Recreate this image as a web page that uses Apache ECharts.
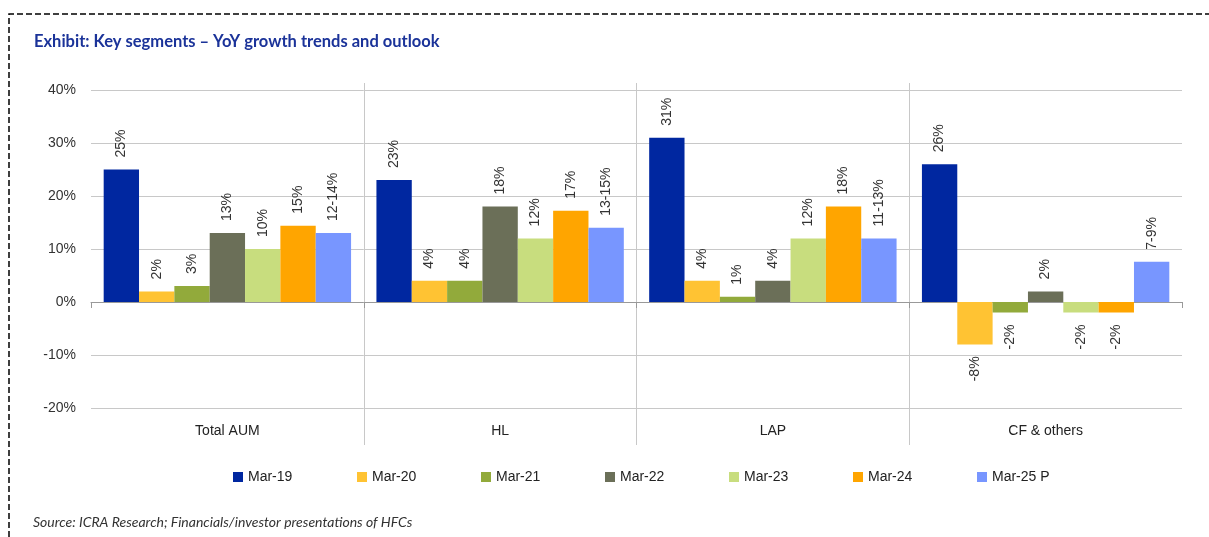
<!DOCTYPE html>
<html>
<head>
<meta charset="utf-8">
<script src="https://cdn.jsdelivr.net/npm/echarts@6/dist/echarts.min.js"></script>
<style>
  html, body { margin: 0; padding: 0; background: #fff; }
  #main { width: 1209px; height: 537px; }
</style>
</head>
<body>
<div id="main"></div>
<script>
// segments on the x axis
var segments = ['Total AUM', 'HL', 'LAP', 'CF & others'];
var yearNames = ['Mar-19', 'Mar-20', 'Mar-21', 'Mar-22', 'Mar-23', 'Mar-24', 'Mar-25 P'];

// YoY growth (%) per year
var mar19 = [25, 23, 31, 26];
var mar20 = [2, 4, 4, -8];
var mar21 = [3, 4, 1, -2];
var mar22 = [13, 18, 4, 2];
var mar23 = [10, 12, 12, -2];
var mar24 = [14.4, 17.2, 18, -2];
var mar25p = [13, 14, 12, 7.6];

// labels printed on the bars
var lbl19 = ['25%', '23%', '31%', '26%'];
var lbl20 = ['2%', '4%', '4%', '-8%'];
var lbl21 = ['3%', '4%', '1%', '-2%'];
var lbl22 = ['13%', '18%', '4%', '2%'];
var lbl23 = ['10%', '12%', '12%', '-2%'];
var lbl24 = ['15%', '17%', '18%', '-2%'];
var lbl25p = ['12-14%', '13-15%', '11-13%', '7-9%'];

var colors = ['#0027A0', '#FFC333', '#92AA3B', '#6B6F58', '#C8DD7E', '#FFA500', '#7896FF'];

var allValues = [mar19, mar20, mar21, mar22, mar23, mar24, mar25p];
var allLabels = [lbl19, lbl20, lbl21, lbl22, lbl23, lbl24, lbl25p];

var FONT = 'Liberation Sans';

function makeSeries(i) {
  var vals = allValues[i], lbls = allLabels[i];
  return {
    name: yearNames[i],
    type: 'bar',
    xAxisIndex: 0,
    yAxisIndex: 0,
    barGap: '0%',
    barCategoryGap: '9.3%',
    itemStyle: { color: colors[i] },
    data: vals.map(function (v) {
      var item = { value: v };
      // negative bars carry their label underneath
      if (v < 0) {
        item.label = { position: 'bottom', align: 'right' };
      }
      return item;
    }),
    label: {
      show: true,
      position: 'top',
      rotate: 90,
      align: 'left',
      verticalAlign: 'middle',
      distance: 12,
      color: '#333',
      fontFamily: FONT,
      fontSize: 14,
      formatter: function (p) { return lbls[p.dataIndex]; }
    }
  };
}

var series = [];
for (var i = 0; i < yearNames.length; i++) series.push(makeSeries(i));

// one legend per item so they sit on an even 124px pitch
var legends = yearNames.map(function (name, k) {
  return {
    data: [name],
    left: 228 + k * 124, top: 465,
    icon: 'rect',
    itemWidth: 10, itemHeight: 10,
    textStyle: { fontFamily: FONT, fontSize: 14, color: '#222' }
  };
});

var chart = echarts.init(document.getElementById('main'));
chart.setOption({
  animation: false,
  backgroundColor: '#fff',
  title: [
    {
      text: 'Exhibit: Key segments \u2013 YoY growth trends and outlook',
      left: 29, top: 28,
      textStyle: { fontFamily: 'Lato', fontWeight: 'bold', fontSize: 16.5, color: '#1B3399' }
    },
    {
      text: 'Source: ICRA Research; Financials/investor presentations of HFCs',
      left: 28, top: 510,
      textStyle: { fontFamily: 'Lato', fontStyle: 'italic', fontWeight: 'normal', fontSize: 14, color: '#333' }
    }
  ],
  graphic: [{
    type: 'polyline',
    shape: { points: [[9, 537], [9, 14], [1209, 14]] },
    style: { stroke: '#000', fill: null, lineWidth: 1.5, lineDash: [6, 3] }
  }],
  legend: legends,
  grid: [
    { left: 91, right: 27, top: 90, bottom: 129 },
    { left: 91, right: 27, top: 83, bottom: 92 }
  ],
  xAxis: [
    {
      type: 'category', gridIndex: 0, data: segments, position: 'bottom',
      axisLine: { onZero: true, lineStyle: { color: '#999', width: 1 } },
      axisTick: { show: true, length: 6, lineStyle: { color: '#999' } },
      axisLabel: { show: false },
      splitLine: { show: false }
    },
    {
      type: 'category', gridIndex: 0, data: segments, position: 'bottom',
      axisLine: { show: false, onZero: false },
      axisTick: { show: false },
      axisLabel: { margin: 16, fontFamily: FONT, fontSize: 14, color: '#222' },
      splitLine: { show: false }
    },
    {
      type: 'category', gridIndex: 1, data: segments,
      axisLine: { show: false }, axisTick: { show: false }, axisLabel: { show: false },
      splitLine: { show: true, showMinLine: false, showMaxLine: false, lineStyle: { color: '#c8c8c8', width: 1 } }
    }
  ],
  yAxis: [
    {
      type: 'value', gridIndex: 0, min: -20, max: 40, interval: 10,
      axisLine: { show: false }, axisTick: { show: false },
      axisLabel: { margin: 15, fontFamily: FONT, fontSize: 14, color: '#333', formatter: '{value}%' },
      splitLine: { lineStyle: { color: '#c8c8c8', width: 1 } }
    },
    {
      type: 'value', gridIndex: 1, min: 0, max: 1,
      show: false, splitLine: { show: false }
    }
  ],
  series: series
});
</script>
</body>
</html>
